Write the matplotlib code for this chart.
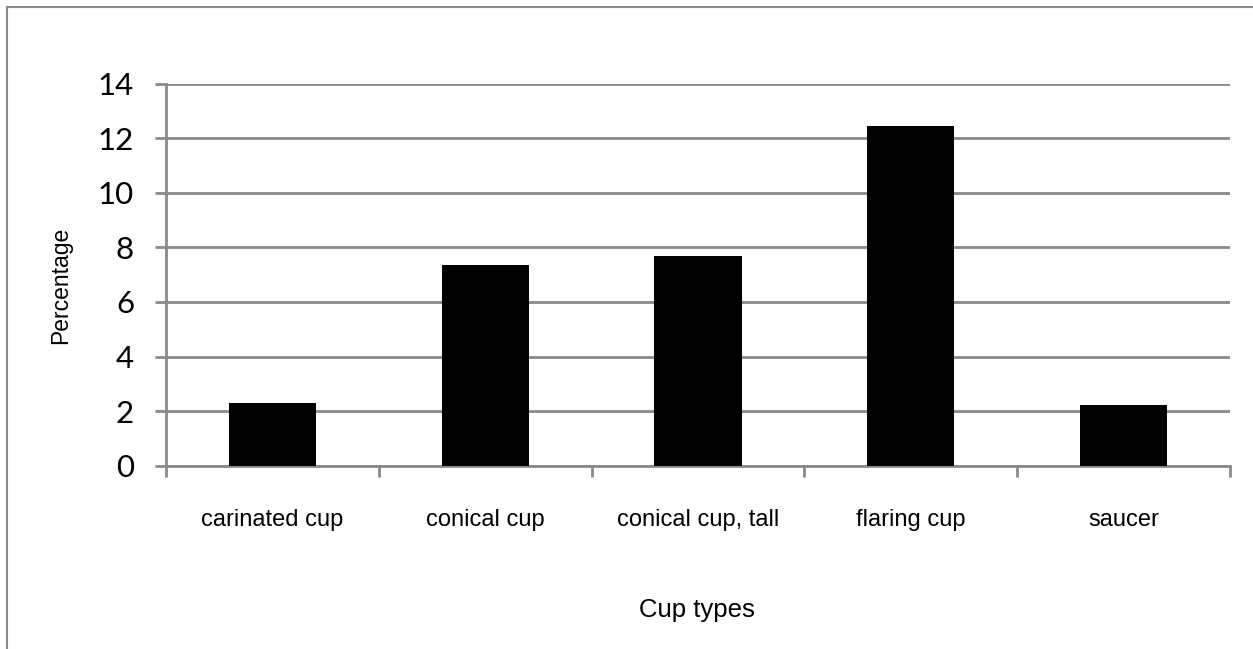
import matplotlib.pyplot as plt
from matplotlib.lines import Line2D
import numpy as np

# Cup type frequencies (percentage)
categories = ["carinated cup", "conical cup", "conical cup, tall", "flaring cup", "saucer"]
percentages = [2.3, 7.37, 7.67, 12.45, 2.22]
y_ticks = [0, 2, 4, 6, 8, 10, 12, 14]

grey = "#8a8a8a"

fig = plt.figure(figsize=(12.53, 6.49), dpi=100)
ax = fig.add_axes([0.1325, 0.2824, 0.8492, 0.5889])

x = np.arange(len(categories))
ax.bar(x, percentages, width=0.41, color="black", zorder=3)

ax.set_xlim(-0.5, len(categories) - 0.5)
ax.set_ylim(0, 14)
ax.set_yticks(y_ticks)
ax.set_yticklabels([str(v) for v in y_ticks], family="Lato", fontsize=22.5)
ax.yaxis.grid(True, color=grey, linewidth=2, zorder=0)

# category labels centred, boundary ticks as minor ticks
ax.set_xticks(x)
ax.set_xticklabels(categories, family="Liberation Sans", fontsize=17)
ax.set_xticks(np.arange(-0.5, len(categories)), minor=True)
ax.tick_params(axis="x", which="major", length=0, pad=31)
ax.tick_params(axis="x", which="minor", length=8, width=2, color=grey, direction="out")
ax.tick_params(axis="y", length=8, width=2, color=grey, direction="out", pad=15)

for s in ["top", "right"]:
    ax.spines[s].set_visible(False)
for s in ["left", "bottom"]:
    ax.spines[s].set_color(grey)
    ax.spines[s].set_linewidth(2)

ax.set_ylabel("Percentage", family="Liberation Sans", fontsize=16.5)
ax.yaxis.set_label_coords(-0.088, 0.473)
ax.set_xlabel("Cup types", family="Liberation Sans", fontsize=18.5)
ax.xaxis.set_label_coords(0.499, -0.345)

# frame lines along the top and left of the figure
fig.add_artist(Line2D([0.0056, 1], [0.9892, 0.9892], color=grey, linewidth=1.5, transform=fig.transFigure))
fig.add_artist(Line2D([0.0056, 0.0056], [0, 0.9892], color=grey, linewidth=1.5, transform=fig.transFigure))

fig.savefig("out.png", dpi=100)
